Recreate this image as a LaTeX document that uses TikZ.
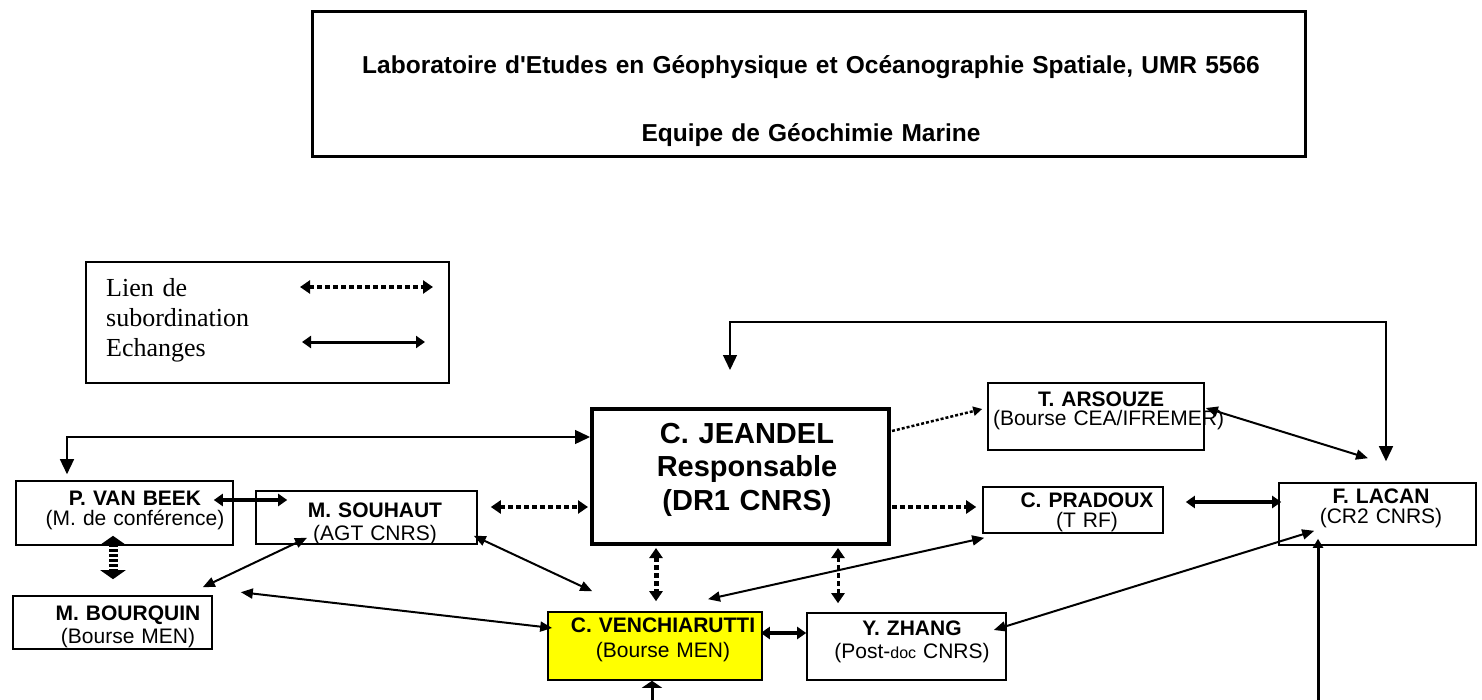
\documentclass[tikz,border=0pt]{standalone}
\usepackage{fontspec}
\setmainfont{Liberation Serif}
\setsansfont{Liberation Sans}
\usetikzlibrary{arrows.meta}

\begin{document}
\begin{tikzpicture}[x=1pt, y=-1pt,
    box/.style={draw, line width=1.6pt, inner sep=0pt},
    who/.style={anchor=base, inner sep=0pt, text width=200pt, align=center,
      font=\sffamily\fontsize{21}{#1}\selectfont},
    link/.style={line width=2pt, >={Triangle[length=12pt,width=10pt]}},
    elbow/.style={line width=1.4pt, >={Triangle[length=15pt,width=14pt]}},
    swap/.style={line width=3.5pt, >={Triangle[length=9pt,width=12pt]}},
    sub/.style={line width=4pt, dash pattern=on 5pt off 3pt, >={Triangle[length=10pt,width=13pt]}},
    fatsub/.style={line width=9pt, dash pattern=on 3pt off 2pt, >={Triangle[length=9pt,width=25pt]}},
    thinsub/.style={line width=2.5pt, dash pattern=on 3pt off 2pt, >={Triangle[length=9pt,width=9pt]}},
  ]
  \path[fill=white] (0,0) rectangle (1482,700);
  \useasboundingbox (0,0) rectangle (1482,700);

  % Titre
  \node[box, line width=3pt, minimum width=993pt, minimum height=145pt] (labo) at (808.5,84.5) {};
  \node[anchor=base, inner sep=0pt, text width=990pt, align=center,
    font=\sffamily\bfseries\fontsize{24.5}{68}\selectfont] (labo-txt) at (811,74)
    {Laboratoire d\textquotesingle Etudes en Géophysique et Océanographie Spatiale, UMR 5566\\Equipe de Géochimie Marine};

  % Legende
  \node[box, line width=2pt, minimum width=363pt, minimum height=121pt] (legende) at (267.5,322.5) {};
  \node[anchor=base west, inner sep=0pt, text width=180pt, align=left,
    font=\fontsize{26}{30}\selectfont] (legende-txt) at (106,297) {Lien de\\subordination\\Echanges};
  \coordinate (sub-a) at (300,287);
  \coordinate (sub-b) at (433,287);
  \coordinate (ech-a) at (302,342);
  \coordinate (ech-b) at (425,342);
  \draw[sub, <->] (sub-a) -- (sub-b);
  \draw[swap, line width=3pt, <->] (ech-a) -- (ech-b);

  % Personnes
  \node[box, line width=4pt, minimum width=297pt, minimum height=135pt] (jeandel) at (740.5,476.5) {};
  \node[anchor=base, inner sep=0pt, text width=290pt, align=center,
    font=\sffamily\bfseries\fontsize{29}{33.5}\selectfont] (jeandel-txt) at (747,443)
    {C. JEANDEL\\Responsable\\ (DR1 CNRS)};

  \node[box, minimum width=217pt, minimum height=64pt] (vanbeek) at (124.5,513) {};
  \node[who=20] (vanbeek-txt) at (135,505) {\textbf{P. VAN BEEK}\\(M. de conférence)};

  \node[box, minimum width=221pt, minimum height=53pt] (souhaut) at (366.5,517.5) {};
  \node[who=23] (souhaut-txt) at (375,517) {\textbf{M. SOUHAUT}\\(AGT CNRS)};

  \node[box, minimum width=199pt, minimum height=53pt] (bourquin) at (112.5,622.5) {};
  \node[who=23] (bourquin-txt) at (128,620) {\textbf{M. BOURQUIN}\\(Bourse MEN)};

  \node[box, fill={rgb,255:red,255;green,255;blue,0}, minimum width=214pt, minimum height=68pt] (vench) at (655,646) {};
  \node[who=25] (vench-txt) at (663,632) {\textbf{C. VENCHIARUTTI}\\(Bourse MEN)};

  \node[box, minimum width=199pt, minimum height=67pt] (zhang) at (906.5,646.5) {};
  \node[who=23] (zhang-txt) at (912,635) {\textbf{Y. ZHANG}\\(Post-{\fontsize{16}{16}\selectfont doc} CNRS)};

  \node[box, minimum width=216pt, minimum height=67pt] (arsouze) at (1096,416.5) {};
  \node[who=19, text width=216pt] (arsouze-txt) at (1101,406) {\textbf{T. ARSOUZE}\\\mbox{(Bourse CEA/IFREMER)}};

  \node[box, minimum width=180pt, minimum height=46pt] (pradoux) at (1073,510) {};
  \node[who=20] (pradoux-txt) at (1087,507) {\textbf{C. PRADOUX}\\(T RF)};

  \node[box, minimum width=197pt, minimum height=62pt] (lacan) at (1377.5,514) {};
  \node[who=20] (lacan-txt) at (1381,503) {\textbf{F. LACAN}\\(CR2 CNRS)};

  % Liens
  \draw[elbow, <->] ([shift={(0,-39.5)}]jeandel.west) -| ([shift={(-57.5,-6)}]vanbeek.north);
  \draw[elbow, <->] ([shift={(-10.5,-37)}]jeandel.north) -- ++(0,-48) -| ([shift={(8.5,-21)}]lacan.north);
  \draw[swap, <->] ([shift={(-20,-13)}]vanbeek.east) -- ([shift={(32,-17.5)}]souhaut.west);
  \draw[fatsub, <->] ([shift={(-11.5,-10)}]vanbeek.south) -- ([shift={(0.5,-16)}]bourquin.north);
  \draw[link, <->] ([shift={(-59.5,-7)}]souhaut.south) -- ([shift={(-10,-8)}]bourquin.north east);
  \draw[link, <->] ([shift={(-4,-9)}]souhaut.south east) -- ([shift={(45,-20)}]vench.north west);
  \draw[link, <->] ([shift={(28,-3)}]bourquin.north east) -- ([shift={(5,-18)}]vench.west);
  \draw[sub, <->] ([shift={(13,-10.5)}]souhaut.east) -- ([shift={(-2,30.5)}]jeandel.west);
  \draw[thinsub, ->] ([shift={(1,24)}]jeandel.north east) -- ([shift={(-5,-7.5)}]arsouze.west);
  \draw[sub, ->] ([shift={(1,30.5)}]jeandel.east) -- ([shift={(-6,-3)}]pradoux.west);
  \draw[sub, line width=5pt, <->] ([shift={(-84.5,2)}]jeandel.south) -- ([shift={(1,-10)}]vench.north);
  \draw[sub, line width=3pt, <->] ([shift={(97.5,2)}]jeandel.south) -- ([shift={(-68.5,-9)}]zhang.north);
  \draw[link, <->] ([shift={(2,4)}]pradoux.south west) -- ([shift={(53,-12)}]vench.north);
  \draw[swap, <->] ([shift={(-2,-13)}]vench.east) -- ([shift={(0,-13.5)}]zhang.west);
  \draw[link, <->] ([shift={(1,-8.5)}]arsouze.east) -- ([shift={(-9.5,-24)}]lacan.north);
  \draw[swap, <->] ([shift={(22,-8)}]pradoux.east) -- ([shift={(3,-12)}]lacan.west);
  \draw[link, <->] ([shift={(36,-15)}]lacan.south west) -- ([shift={(-13,-16.5)}]zhang.east);

  % Liens venant du bas
  \coordinate (bas-vench) at (652,700);
  \coordinate (bas-lacan) at (1318,700);
  \draw[line width=3pt, -{Triangle[length=7pt,width=20pt]}] (bas-vench) -- ([shift={(-3,0)}]vench.south);
  \draw[line width=3pt, -{Triangle[length=9pt,width=10pt]}] (bas-lacan) -- ([shift={(-59.5,-7)}]lacan.south);
\end{tikzpicture}
\end{document}
